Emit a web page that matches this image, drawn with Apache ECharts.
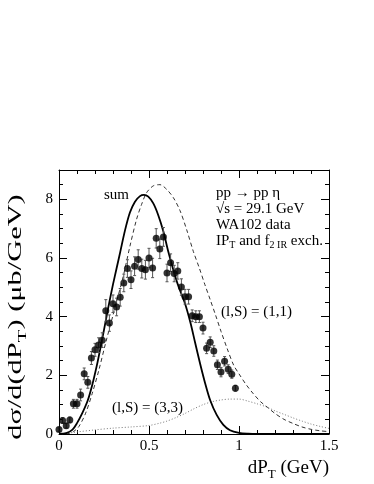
<!DOCTYPE html>
<html>
<head>
<meta charset="utf-8">
<script src="https://cdn.jsdelivr.net/npm/echarts@6/dist/echarts.min.js"></script>
<style>
  html, body { margin: 0; padding: 0; background: #fff; }
  #chart { width: 374px; height: 484px; }
</style>
</head>
<body>
<div id="chart"></div>
<script>
// WA102 data points (bin centres, values, errors)
const ptX = [0.00, 0.02, 0.04, 0.06, 0.08, 0.10, 0.12, 0.14, 0.16, 0.18,
             0.20, 0.22, 0.24, 0.26, 0.28, 0.30, 0.32, 0.34, 0.36, 0.38,
             0.40, 0.42, 0.44, 0.46, 0.48, 0.50, 0.52, 0.54, 0.56, 0.58,
             0.60, 0.62, 0.64, 0.66, 0.68, 0.70, 0.72, 0.74, 0.76, 0.78,
             0.80, 0.82, 0.84, 0.86, 0.88, 0.90, 0.92, 0.94, 0.96, 0.98];
const ptY = [0.15, 0.46, 0.28, 0.48, 1.03, 1.03, 1.33, 2.05, 1.76, 2.59,
             2.87, 3.03, 3.20, 4.20, 3.78, 4.44, 4.33, 4.66, 5.15, 5.64,
             5.26, 5.72, 5.95, 5.64, 5.60, 6.00, 5.66, 6.67, 6.31, 6.72,
             5.49, 5.84, 5.47, 5.56, 5.01, 4.68, 4.68, 4.03, 4.00, 4.00,
             3.61, 2.92, 3.13, 2.83, 2.36, 2.11, 2.48, 2.21, 2.04, 1.56];
const ptErr = [0.06, 0.09, 0.08, 0.10, 0.15, 0.15, 0.20, 0.20, 0.20, 0.22,
               0.22, 0.25, 0.25, 0.38, 0.28, 0.30, 0.30, 0.30, 0.30, 0.30,
               0.30, 0.32, 0.33, 0.32, 0.32, 0.33, 0.33, 0.33, 0.33, 0.32,
               0.30, 0.30, 0.28, 0.28, 0.28, 0.25, 0.25, 0.20, 0.20, 0.20,
               0.20, 0.18, 0.18, 0.18, 0.16, 0.16, 0.16, 0.15, 0.14, 0.10];

// model curves [dPT, value]
const sumCurve = [[0, 0], [0.04, 0.03], [0.075, 0.15], [0.1, 0.37], [0.13, 0.72], [0.16, 1.15],
  [0.185, 1.68], [0.21, 2.33], [0.23, 2.93], [0.25, 3.55], [0.275, 4.35], [0.3, 5.1],
  [0.32, 5.65], [0.34, 6.2], [0.367, 6.95], [0.394, 7.55], [0.422, 7.92], [0.45, 8.11],
  [0.472, 8.15], [0.496, 8.09], [0.524, 7.86], [0.552, 7.45], [0.58, 6.9], [0.607, 6.22],
  [0.635, 5.6], [0.66, 5.1], [0.7, 4.45], [0.73, 3.8], [0.756, 3.12], [0.783, 2.42],
  [0.811, 1.75], [0.84, 1.15], [0.876, 0.65], [0.913, 0.31], [0.95, 0.13], [1.0, 0.04],
  [1.05, 0.01], [1.1, 0], [1.5, 0]];
const curve11 = [[0, 0], [0.056, 0.02], [0.08, 0.08], [0.11, 0.25], [0.148, 0.71], [0.185, 1.39],
  [0.222, 2.19], [0.259, 3.1], [0.3, 4.05], [0.357, 5.38], [0.394, 6.4], [0.431, 7.32],
  [0.459, 7.83], [0.487, 8.23], [0.524, 8.46], [0.561, 8.5], [0.598, 8.34], [0.635, 8.06],
  [0.672, 7.62], [0.709, 6.97], [0.746, 6.23], [0.78, 5.65], [0.81, 5.1], [0.84, 4.58],
  [0.87, 4.05], [0.9, 3.5], [0.935, 2.9], [0.97, 2.35], [1.0, 2.05], [1.04, 1.68],
  [1.08, 1.37], [1.12, 1.1], [1.16, 0.9], [1.2, 0.7], [1.25, 0.5], [1.3, 0.36],
  [1.35, 0.24], [1.4, 0.16], [1.45, 0.11], [1.5, 0.08]];
const curve33 = [[0, 0], [0.05, 0.03], [0.1, 0.07], [0.2, 0.14], [0.3, 0.2], [0.4, 0.24],
  [0.5, 0.29], [0.56, 0.37], [0.6, 0.44], [0.65, 0.56], [0.7, 0.7], [0.75, 0.86],
  [0.8, 1.0], [0.85, 1.1], [0.9, 1.16], [0.95, 1.19], [1.0, 1.19], [1.05, 1.12],
  [1.1, 1.03], [1.15, 0.93], [1.2, 0.79], [1.25, 0.67], [1.3, 0.55], [1.35, 0.44],
  [1.4, 0.34], [1.45, 0.26], [1.5, 0.19]];

const FONT = "'Liberation Serif', 'DejaVu Serif', serif";

const chart = echarts.init(document.getElementById("chart"), null, { renderer: "canvas" });

function axisCommon(showLabel) {
  return {
    axisLine: { show: true, onZero: false, lineStyle: { color: "#000", width: 1 } },
    axisTick: { show: true, inside: true, length: 8, lineStyle: { color: "#000", width: 1 } },
    minorTick: { show: true, length: 4, lineStyle: { color: "#000", width: 1 } },
    splitLine: { show: false },
    axisLabel: {
      show: showLabel,
      color: "#000",
      fontFamily: FONT,
      fontSize: 15,
      showMaxLabel: false,
    },
  };
}

const xBase = (pos, showLabel) => {
  const a = axisCommon(showLabel);
  a.minorTick.splitNumber = 5;
  a.axisLabel.showMaxLabel = true;
  a.axisLabel.margin = 5;
  return Object.assign({ type: "value", position: pos, min: 0, max: 1.5, interval: 0.5 }, a);
};
const yBase = (pos, showLabel) => {
  const a = axisCommon(showLabel);
  a.minorTick.splitNumber = 4;
  a.axisLabel.margin = 6;
  return Object.assign({ type: "value", position: pos, min: 0, max: 9, interval: 2 }, a);
};

const errData = ptX.map((x, i) => [x, ptY[i] - ptErr[i], ptY[i] + ptErr[i]]);

const option = {
  animation: false,
  backgroundColor: "#fff",
  grid: { left: 59, right: 45, top: 170, bottom: 50, containLabel: false },
  xAxis: [xBase("bottom", true), xBase("top", false)],
  yAxis: [yBase("left", true), yBase("right", false)],
  graphic: [
    {
      type: "text", x: 329, y: 468,
      style: {
        text: "{n|dP}{s|T}{n| (GeV)}",
        align: "right", verticalAlign: "middle",
        rich: {
          n: { fontFamily: FONT, fontSize: 19, color: "#000", lineHeight: 26, verticalAlign: "middle" },
          s: { fontFamily: FONT, fontSize: 13, color: "#000", lineHeight: 13, verticalAlign: "bottom" },
        },
      },
    },
    {
      // the y title is drawn stretched along its length, like the original
      type: "text", x: 16, y: 317, rotation: Math.PI / 2, scaleX: 1.6,
      style: {
        text: "{n|dσ/d(dP}{s|T}{n|) (μb/GeV)}",
        align: "center", verticalAlign: "middle",
        rich: {
          n: { fontFamily: FONT, fontSize: 19, color: "#000", lineHeight: 26, verticalAlign: "middle" },
          s: { fontFamily: FONT, fontSize: 13, color: "#000", lineHeight: 13, verticalAlign: "bottom" },
        },
      },
    },
    {
      type: "text", x: 216, y: 185,
      style: {
        text: "pp → pp η\n√s = 29.1 GeV\nWA102 data",
        fontFamily: FONT, fontSize: 15, lineHeight: 16, fill: "#000",
      },
    },
    {
      type: "text", x: 216, y: 232,
      style: {
        text: "{n|IP}{s|T}{n| and f}{s|2 IR}{n| exch.}",
        rich: {
          n: { fontFamily: FONT, fontSize: 15, color: "#000", lineHeight: 18, verticalAlign: "middle" },
          s: { fontFamily: FONT, fontSize: 10, color: "#000", lineHeight: 10, verticalAlign: "bottom" },
        },
      },
    },
    { type: "text", x: 104, y: 188, style: { text: "sum", fontFamily: FONT, fontSize: 15, fill: "#000" } },
    { type: "text", x: 221, y: 305, style: { text: "(l,S) = (1,1)", fontFamily: FONT, fontSize: 15, fill: "#000" } },
    { type: "text", x: 112, y: 401, style: { text: "(l,S) = (3,3)", fontFamily: FONT, fontSize: 15, fill: "#000" } },
  ],
  series: [
    {
      name: "(3,3)", type: "line", data: curve33, smooth: 0.3, symbol: "none", z: 2,
      lineStyle: { color: "#777", width: 1, type: [1, 2] },
    },
    {
      name: "(1,1)", type: "line", data: curve11, smooth: 0.3, symbol: "none", z: 2,
      lineStyle: { color: "#333", width: 1, type: [4, 3] },
    },
    {
      name: "sum", type: "line", data: sumCurve, smooth: 0.3, symbol: "none", z: 3,
      lineStyle: { color: "#000", width: 1.8 },
    },
    {
      name: "err", type: "custom", data: errData, z: 4,
      renderItem: (params, api) => {
        const lo = api.coord([api.value(0), api.value(1)]);
        const hi = api.coord([api.value(0), api.value(2)]);
        const cap = 1.5;
        const st = { stroke: "#555", lineWidth: 1 };
        return {
          type: "group",
          children: [
            { type: "line", shape: { x1: lo[0], y1: lo[1], x2: hi[0], y2: hi[1] }, style: st },
            { type: "line", shape: { x1: lo[0] - cap, y1: lo[1], x2: lo[0] + cap, y2: lo[1] }, style: st },
            { type: "line", shape: { x1: hi[0] - cap, y1: hi[1], x2: hi[0] + cap, y2: hi[1] }, style: st },
          ],
        };
      },
    },
    {
      name: "WA102", type: "scatter", data: ptX.map((x, i) => [x, ptY[i]]), z: 5,
      symbol: "circle", symbolSize: 7, itemStyle: { color: "#000" },
    },
  ],
};

chart.setOption(option);
</script>
</body>
</html>
